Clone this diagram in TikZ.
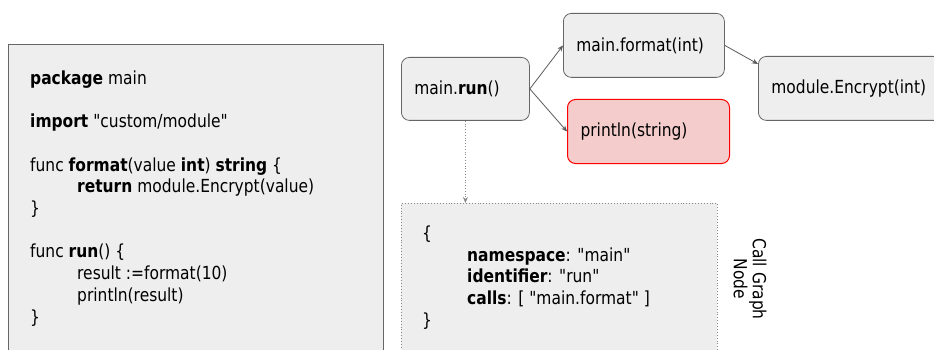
\documentclass[tikz,border=0pt]{standalone}
\usepackage{fontspec}
\setmainfont{DejaVu Sans}[FakeStretch=0.86, Ligatures=TeXOff]
\usepackage{xcolor}
\usepackage{tikz}
\usetikzlibrary{arrows.meta}
\definecolor{boxfill}{HTML}{EEEEEE}
\definecolor{edge}{HTML}{666666}
\definecolor{wire}{HTML}{5A5A5A}
\definecolor{dots}{HTML}{888888}
\definecolor{errfill}{HTML}{F4CCCC}
\definecolor{errline}{HTML}{FF0000}
\tikzset{
  txt/.style={font=\fontsize{18}{21.7}\selectfont},
  fn/.style={txt, draw=edge, fill=boxfill, line width=0.8pt, rounded corners=8pt,
    anchor=north west, inner xsep=13pt, inner ysep=0pt, minimum height=63pt, align=left},
  bad/.style={fn, draw=errline, fill=errfill, line width=1pt},
  panel/.style={draw=edge, fill=boxfill, line width=0.9pt, anchor=north west, inner sep=0pt},
  listing/.style={txt, anchor=north west, inner sep=0pt},
  call/.style={draw=wire, line width=0.8pt, -{Stealth[length=6pt,width=5pt]}},
}

\begin{document}
\begin{tikzpicture}[x=1pt,y=-1pt]
  \path[use as bounding box, clip] (0,0) rectangle (934,350);
  % source listing
  \node[panel, minimum width=375pt, minimum height=330pt] (code) at (8,44) {};
  \node[listing] (src) at (30,69) {\begin{tabular}{@{}l@{}}
    \textbf{package} main\\
    \\
    \textbf{import} "custom/module"\\
    \\
    func \textbf{format}(value \textbf{int}) \textbf{string} \{\\
    \hspace*{47pt}\textbf{return} module.Encrypt(value)\\
    \}\\
    \\
    func \textbf{run}() \{\\
    \hspace*{47pt}result :=format(10)\\
    \hspace*{47pt}println(result)\\
    \}
  \end{tabular}};
  % call graph
  \node[fn, text width=102pt] (run) at (401,57) {main.\textbf{run}()};
  \node[fn, text width=135pt, minimum height=64pt] (fmt) at (563,13) {main.format(int)};
  \node[bad, text width=136pt, minimum height=64pt] (prn) at (567,99) {println(string)};
  \node[fn, text width=170pt, minimum height=64pt] (enc) at (758,56) {module.Encrypt(int)};
  \draw[call] (run.east) -- (fmt.west);
  \draw[call] (run.east) -- (prn.west);
  \draw[call] (fmt.east) -- ([yshift=-8pt]enc.north west);
  % node record
  \node[panel, draw=dots, dotted, minimum width=316pt, minimum height=170pt] (cg) at (401,203) {};
  \node[listing] (rec) at (422,224) {\begin{tabular}{@{}l@{}}
    \{\\
    \hspace*{45pt}\textbf{namespace}: "main"\\
    \hspace*{45pt}\textbf{identifier}: "run"\\
    \hspace*{45pt}\textbf{calls}: [ "main.format" ]\\
    \}
  \end{tabular}};
  \draw[call, draw=dots, dotted] (run.south) -- (run.south |- cg.north);
  \node[font=\fontsize{18}{19}\selectfont, rotate=-90, align=center] (lbl) at (750,279) {Call Graph\\Node};
\end{tikzpicture}
\end{document}
